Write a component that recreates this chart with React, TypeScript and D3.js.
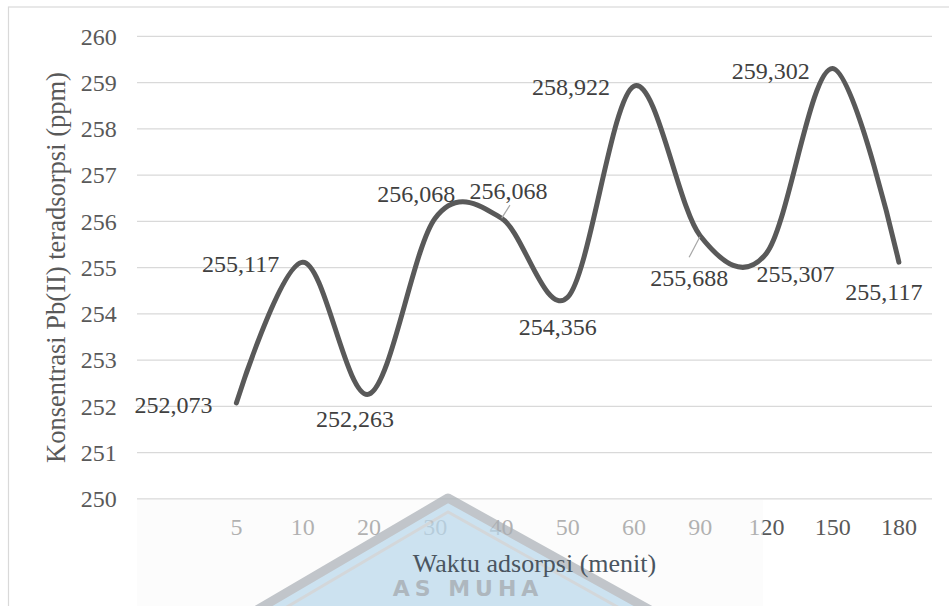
import React from "react";
import * as d3 from "d3";

const categories = ["5", "10", "20", "30", "40", "50", "60", "90", "120", "150", "180"];
const values = [252.073, 255.117, 252.263, 256.068, 256.068, 254.356, 258.922, 255.688, 255.307, 259.302, 255.117];
const labels = ["252,073", "255,117", "252,263", "256,068", "256,068", "254,356", "258,922", "255,688", "255,307", "259,302", "255,117"];
const yTicks = [250, 251, 252, 253, 254, 255, 256, 257, 258, 259, 260];
const labelOffsets: [number, number][] = [
  [-63, 2], [-62, 1], [-14, 24], [-19, -25], [7, -28], [-10, 29],
  [-63, 0], [-11, 42], [29, 20], [-62, 2], [-15, 29],
];
const leaders: { i: number; from: [number, number]; to: [number, number] }[] = [
  { i: 4, from: [8.6, -13], to: [0.3, 0] },
  { i: 7, from: [-11, 21.6], to: [-0.2, 1] },
];

const W = 949;
const H = 606;
const FONT = "'Liberation Serif', 'Tinos', 'Times New Roman', 'DejaVu Serif', serif";
const serif = { fontFamily: FONT };

export default function App() {
  const x = d3.scaleBand<string>().domain(["__blank__", ...categories]).range([137, 932]).padding(0);
  const y = d3.scaleLinear().domain([250, 260]).range([498.8, 36.3]);
  const cx = (c: string) => (x(c) as number) + x.bandwidth() / 2;

  const pts: [number, number][] = categories.map((c, i) => [cx(c), y(values[i])]);
  const line = d3.line<[number, number]>().x((d) => d[0]).y((d) => d[1]).curve(d3.curveCardinal.tension(0));
  const path = line(pts) || "";

  const apex: [number, number] = [448, 498];

  return (
    <svg width={W} height={H} style={{ position: "absolute", left: 0, top: 0, background: "#fff" }}>
      <rect x={0} y={0} width={W} height={H} fill="#fff" />
      <rect x={8.5} y={7} width={W + 20} height={H + 20} fill="none" stroke="#d9d9d9" strokeWidth={1.2} />
      {yTicks.map((t) => (
        <g key={t}>
          <line x1={137} x2={932} y1={y(t)} y2={y(t)} stroke="#d9d9d9" strokeWidth={1.3} />
          <text x={116.7} y={y(t)} dy="0.35em" textAnchor="end" fontSize={24} fill="#595959" style={serif}>
            {t}
          </text>
        </g>
      ))}
      {categories.map((c) => (
        <text key={c} x={cx(c)} y={535} textAnchor="middle" fontSize={24} fill="#595959" style={serif}>
          {c}
        </text>
      ))}
      {/* pasted scan overlay with watermark */}
      <rect x={137} y={500} width={626} height={106} fill="#f9f9f9" opacity={0.55} />
      <g opacity={0.7}>
        <polygon
          points={`${apex[0]},${apex[1]} ${apex[0] - 210},${apex[1] + 123} ${apex[0] + 222},${apex[1] + 123}`}
          fill="#b9d8ec"
          stroke="#a9afb5"
          strokeWidth={9}
          strokeLinejoin="round"
        />
        <polygon
          points={`${apex[0]},${apex[1] + 14} ${apex[0] - 190},${apex[1] + 126} ${apex[0] + 200},${apex[1] + 126}`}
          fill="none"
          stroke="#c3c8cc"
          strokeWidth={3}
        />
        <text x={468} y={596} textAnchor="middle" fontFamily="'DejaVu Sans', sans-serif" fontWeight="bold" fontSize={22} fill="#8e9aa5" letterSpacing={5}>
          AS MUHA
        </text>
      </g>
      <text x={534.5} y={572} textAnchor="middle" fontSize={26} fill="#4a5560" style={serif}>
        Waktu adsorpsi (menit)
      </text>
      <text
        transform={`translate(65,267.5) rotate(-90)`}
        textAnchor="middle"
        fontSize={26.5}
        fill="#595959"
        style={serif}
      >
        Konsentrasi Pb(II) teradsorpsi (ppm)
      </text>
      <path d={path} fill="none" stroke="#595959" strokeWidth={5} strokeLinecap="round" strokeLinejoin="round" />
      {leaders.map((l) => (
        <line
          key={l.i}
          x1={pts[l.i][0] + l.from[0]}
          y1={pts[l.i][1] + l.from[1]}
          x2={pts[l.i][0] + l.to[0]}
          y2={pts[l.i][1] + l.to[1]}
          stroke="#a6a6a6"
          strokeWidth={1.2}
        />
      ))}
      {pts.map((p, i) => (
        <text
          key={i}
          x={p[0] + labelOffsets[i][0]}
          y={p[1] + labelOffsets[i][1]}
          dy="0.35em"
          textAnchor="middle"
          fontSize={24}
          fill="#404040"
          style={serif}
        >
          {labels[i]}
        </text>
      ))}
    </svg>
  );
}
